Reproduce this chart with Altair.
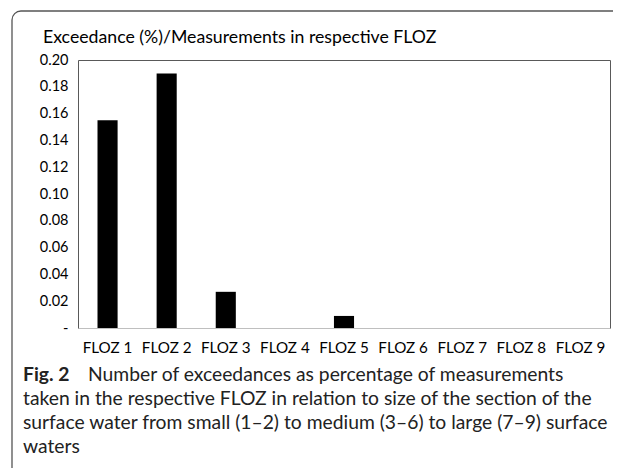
import altair as alt
import pandas as pd

categories = ["FLOZ 1", "FLOZ 2", "FLOZ 3", "FLOZ 4", "FLOZ 5", "FLOZ 6", "FLOZ 7", "FLOZ 8", "FLOZ 9"]
values = [0.155, 0.19, 0.027, 0.0, 0.009, 0.0, 0.0, 0.0, 0.0]
y_ticks = [0.0, 0.02, 0.04, 0.06, 0.08, 0.10, 0.12, 0.14, 0.16, 0.18, 0.20]

chart_title = "Exceedance (%)/Measurements in respective FLOZ"
caption_label = "Fig. 2"
caption_first = "Number of exceedances as percentage of measurements"
caption_lines = [
    "taken in the respective FLOZ in relation to size of the section of the",
    "surface water from small (1\u20132) to medium (3\u20136) to large (7\u20139) surface",
    "waters",
]

CHART_FONT = "Lato"
CAPTION_FONT = "Lato"
CAP_SIZE = 19.3

df = pd.DataFrame({"cat": categories, "val": values})
one = pd.DataFrame({"k": [0]})

frame = alt.Chart(one).mark_rect(
    filled=False, stroke="#555555", strokeWidth=1.3, cornerRadius=9
).encode(
    x=alt.value(-66), x2=alt.value(700), y=alt.value(-49), y2=alt.value(500)
)

bars = alt.Chart(df).mark_bar(color="black").encode(
    x=alt.X(
        "cat:N",
        sort=categories,
        scale=alt.Scale(paddingInner=0.66, paddingOuter=0.33),
        axis=alt.Axis(
            title=None, labelAngle=0, ticks=False, domainColor="#bfbfbf",
            labelFont=CHART_FONT, labelFontSize=15.2, labelColor="black",
            labelPadding=12,
        ),
    ),
    y=alt.Y(
        "val:Q",
        scale=alt.Scale(domain=[0, 0.2], nice=False),
        axis=alt.Axis(
            title=None, values=y_ticks, grid=False, ticks=False, domain=False,
            labelFont=CHART_FONT, labelFontSize=14.5, labelColor="black",
            labelPadding=10,
            labelExpr="datum.value == 0 ? '-\u00a0\u00a0\u00a0' : format(datum.value, '.2f')",
        ),
    ),
)

title_text = alt.Chart(one).mark_text(
    text=chart_title, align="left", baseline="alphabetic",
    font=CHART_FONT, fontSize=17.7, color="black",
).encode(x=alt.value(-35), y=alt.value(-17))

fig_label = alt.Chart(one).mark_text(
    text=caption_label, align="left", baseline="alphabetic",
    font=CAPTION_FONT, fontSize=CAP_SIZE, fontWeight="bold", color="#222222",
).encode(x=alt.value(-55), y=alt.value(321))

first_line = alt.Chart(one).mark_text(
    text=caption_first, align="left", baseline="alphabetic",
    font=CAPTION_FONT, fontSize=CAP_SIZE, color="#222222",
).encode(x=alt.value(10), y=alt.value(321))

cap_layers = []
for i, line in enumerate(caption_lines):
    cap_layers.append(
        alt.Chart(one).mark_text(
            text=line, align="left", baseline="alphabetic",
            font=CAPTION_FONT, fontSize=CAP_SIZE, color="#222222",
        ).encode(x=alt.value(-55), y=alt.value(345 + 24 * i))
    )

chart = alt.layer(frame, bars, title_text, fig_label, first_line, *cap_layers).properties(
    width=532,
    height=268,
    padding={"left": 70, "top": 52, "right": 3, "bottom": 140},
    autosize=alt.AutoSizeParams(type="none"),
    background="white",
).configure_view(stroke="#595959", strokeWidth=1)

chart.save("out.html", embed_options={"renderer": "svg", "actions": False})
